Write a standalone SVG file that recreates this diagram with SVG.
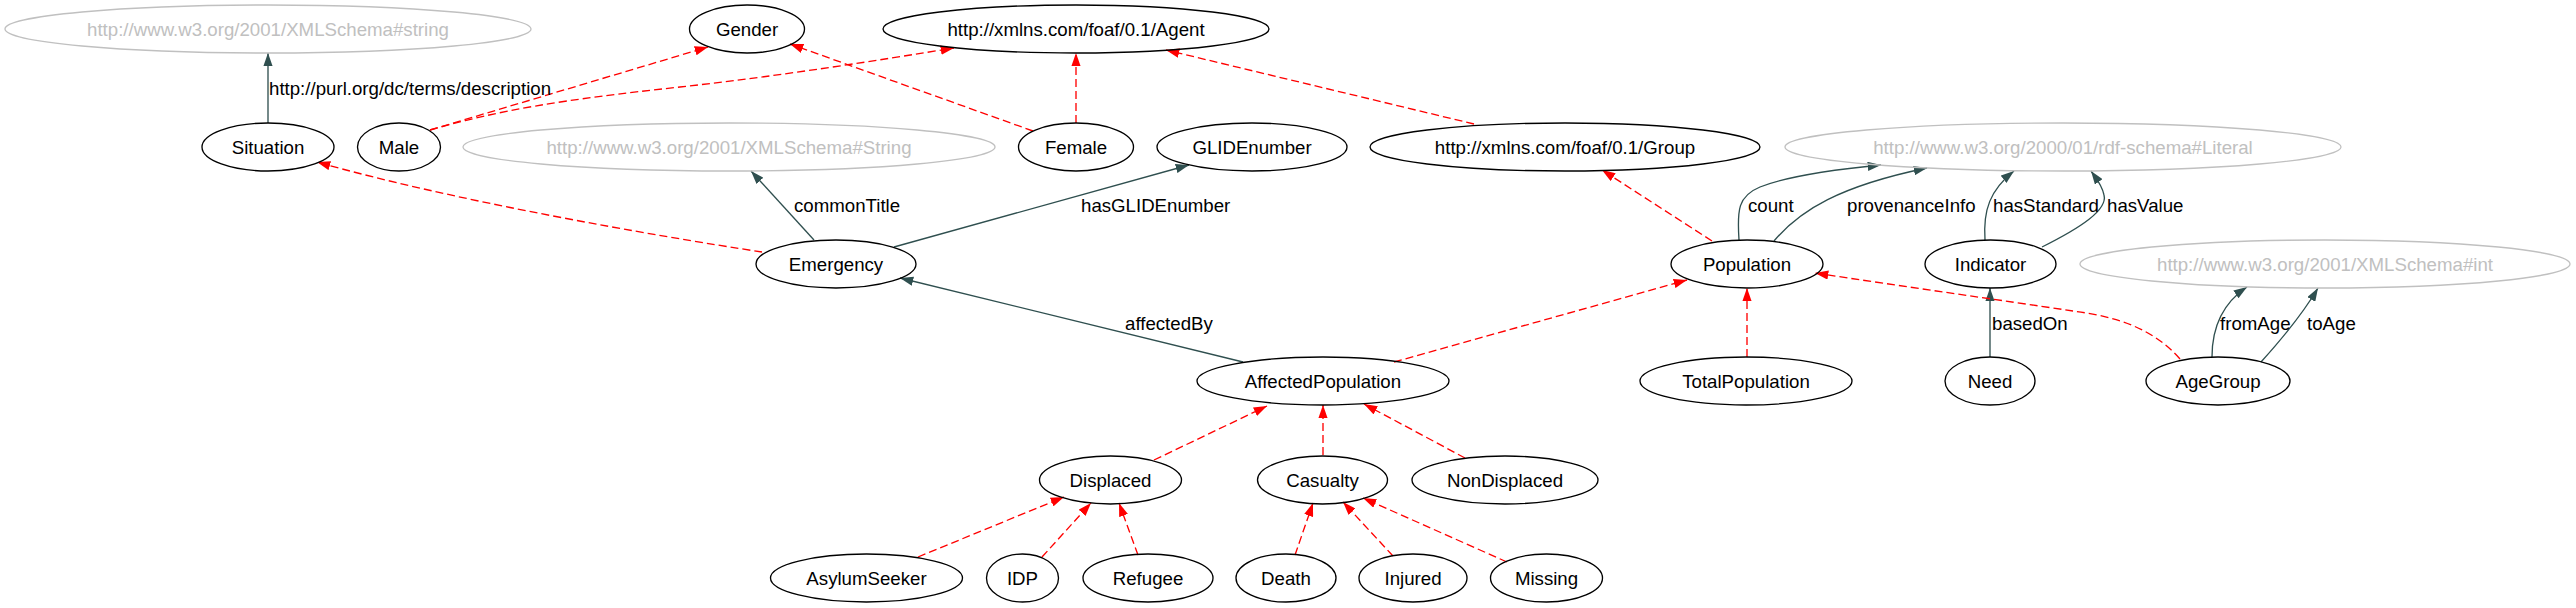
<svg xmlns="http://www.w3.org/2000/svg" width="2576" height="608" viewBox="0 0 2576 608">
<style>
.n ellipse{fill:none;stroke:#000;stroke-width:1.33}
.g ellipse{fill:none;stroke:#c0c0c0;stroke-width:1.33}
text{font-family:"Liberation Sans",Arial,Helvetica,sans-serif;font-size:18.67px}
.n text{fill:#000;text-anchor:middle}
.g text{fill:#c0c0c0;text-anchor:middle}
.p{fill:none;stroke:#2f4f4f;stroke-width:1.33;marker-end:url(#ad)}
.s{fill:none;stroke:#ff0000;stroke-width:1.33;stroke-dasharray:8,4;marker-end:url(#ar)}
.lbl{fill:#000}
</style>
<defs>
<marker id="ad" markerUnits="userSpaceOnUse" viewBox="0 0 13.3 9.33" refX="13.3" refY="4.67" markerWidth="13.3" markerHeight="9.33" orient="auto"><path d="M0,0 L13.3,4.67 L0,9.33 z" fill="#2f4f4f"/></marker>
<marker id="ar" markerUnits="userSpaceOnUse" viewBox="0 0 13.3 9.33" refX="13.3" refY="4.67" markerWidth="13.3" markerHeight="9.33" orient="auto"><path d="M0,0 L13.3,4.67 L0,9.33 z" fill="#ff0000"/></marker>
</defs>
<rect width="2576" height="608" fill="#fff"/>
<g id="connectors">
<path class="p" d="M268,123 L268,53"/>
<path class="p" d="M814,240 L751,171"/>
<path class="p" d="M894,247 L1189,165"/>
<path class="p" d="M1243,362 L900,278"/>
<path class="p" d="M1739,240 C1737,210 1738,196 1760,187 C1790,175 1840,169 1881,165"/>
<path class="p" d="M1774,241 C1800,210 1840,186 1927,168"/>
<path class="p" d="M1985,240 C1983,210 1990,190 2014,171"/>
<path class="p" d="M2042,247 C2080,228 2108,210 2104,195 C2102,185 2096,178 2091,171"/>
<path class="p" d="M1990,357 L1990,288"/>
<path class="p" d="M2212,357 C2212,330 2220,305 2247,287"/>
<path class="p" d="M2261,362 C2290,330 2305,310 2318,288"/>
<path class="s" d="M430,130 L708,47"/>
<path class="s" d="M430,130 C500,110 560,100 680,87 C780,76 880,60 954,48"/>
<path class="s" d="M1033,131 L790,44"/>
<path class="s" d="M1076,123 L1076,53"/>
<path class="s" d="M1474,124 L1166,50"/>
<path class="s" d="M762,252 C650,235 450,200 317,162"/>
<path class="s" d="M1712,241 L1602,170"/>
<path class="s" d="M1394,362 L1687,280"/>
<path class="s" d="M1747,357 L1747,288"/>
<path class="s" d="M2180,359 C2150,325 2110,316 2073,311 C2000,300 1900,286 1815,273"/>
<path class="s" d="M1154,460 L1267,406"/>
<path class="s" d="M1323,455 L1323,405"/>
<path class="s" d="M1465,458 L1364,404"/>
<path class="s" d="M918,557 L1064,497"/>
<path class="s" d="M1042,557 L1091,503"/>
<path class="s" d="M1138,555 L1119,503"/>
<path class="s" d="M1295,555 L1313,503"/>
<path class="s" d="M1393,556 L1343,502"/>
<path class="s" d="M1507,562 L1363,498"/>
<text class="lbl" x="269" y="94.5">http://purl.org/dc/terms/description</text>
<text class="lbl" x="794" y="211.5">commonTitle</text>
<text class="lbl" x="1081" y="211.5">hasGLIDEnumber</text>
<text class="lbl" x="1748" y="211.5">count</text>
<text class="lbl" x="1847" y="211.5">provenanceInfo</text>
<text class="lbl" x="1993" y="211.5">hasStandard</text>
<text class="lbl" x="2107" y="211.5">hasValue</text>
<text class="lbl" x="1125" y="329.5">affectedBy</text>
<text class="lbl" x="1992" y="329.5">basedOn</text>
<text class="lbl" x="2220" y="329.5">fromAge</text>
<text class="lbl" x="2307" y="329.5">toAge</text>
</g>
<g id="n_string" class="g"><ellipse cx="268" cy="29" rx="263" ry="24"/><text x="268" y="35.5">http://www.w3.org/2001/XMLSchema#string</text></g>
<g id="n_gender" class="n"><ellipse cx="747" cy="29" rx="57.5" ry="24"/><text x="747" y="35.5">Gender</text></g>
<g id="n_agent" class="n"><ellipse cx="1076" cy="29" rx="193" ry="24"/><text x="1076" y="35.5">http://xmlns.com/foaf/0.1/Agent</text></g>
<g id="n_situation" class="n"><ellipse cx="268" cy="147" rx="66" ry="24"/><text x="268" y="153.5">Situation</text></g>
<g id="n_male" class="n"><ellipse cx="399" cy="147" rx="41.5" ry="24"/><text x="399" y="153.5">Male</text></g>
<g id="n_String" class="g"><ellipse cx="729" cy="147" rx="266" ry="24"/><text x="729" y="153.5">http://www.w3.org/2001/XMLSchema#String</text></g>
<g id="n_female" class="n"><ellipse cx="1076" cy="147" rx="57.5" ry="24"/><text x="1076" y="153.5">Female</text></g>
<g id="n_glide" class="n"><ellipse cx="1252" cy="147" rx="95" ry="24"/><text x="1252" y="153.5">GLIDEnumber</text></g>
<g id="n_group" class="n"><ellipse cx="1565" cy="147" rx="195" ry="24"/><text x="1565" y="153.5">http://xmlns.com/foaf/0.1/Group</text></g>
<g id="n_literal" class="g"><ellipse cx="2063" cy="147" rx="278" ry="24"/><text x="2063" y="153.5">http://www.w3.org/2000/01/rdf-schema#Literal</text></g>
<g id="n_emergency" class="n"><ellipse cx="836" cy="264" rx="80" ry="24"/><text x="836" y="270.5">Emergency</text></g>
<g id="n_population" class="n"><ellipse cx="1747" cy="264" rx="76" ry="24"/><text x="1747" y="270.5">Population</text></g>
<g id="n_indicator" class="n"><ellipse cx="1990.5" cy="264" rx="65.5" ry="24"/><text x="1990.5" y="270.5">Indicator</text></g>
<g id="n_int" class="g"><ellipse cx="2325" cy="264" rx="245" ry="24"/><text x="2325" y="270.5">http://www.w3.org/2001/XMLSchema#int</text></g>
<g id="n_affected" class="n"><ellipse cx="1323" cy="381" rx="126" ry="24"/><text x="1323" y="387.5">AffectedPopulation</text></g>
<g id="n_total" class="n"><ellipse cx="1746" cy="381" rx="106" ry="24"/><text x="1746" y="387.5">TotalPopulation</text></g>
<g id="n_need" class="n"><ellipse cx="1990" cy="381" rx="45" ry="24"/><text x="1990" y="387.5">Need</text></g>
<g id="n_agegroup" class="n"><ellipse cx="2218" cy="381" rx="72" ry="24"/><text x="2218" y="387.5">AgeGroup</text></g>
<g id="n_displaced" class="n"><ellipse cx="1110.5" cy="480" rx="71" ry="24"/><text x="1110.5" y="486.5">Displaced</text></g>
<g id="n_casualty" class="n"><ellipse cx="1322.5" cy="480" rx="65" ry="24"/><text x="1322.5" y="486.5">Casualty</text></g>
<g id="n_nondisplaced" class="n"><ellipse cx="1505" cy="480" rx="93" ry="24"/><text x="1505" y="486.5">NonDisplaced</text></g>
<g id="n_asylum" class="n"><ellipse cx="866.5" cy="578" rx="96" ry="24"/><text x="866.5" y="584.5">AsylumSeeker</text></g>
<g id="n_idp" class="n"><ellipse cx="1022.5" cy="578" rx="36" ry="24"/><text x="1022.5" y="584.5">IDP</text></g>
<g id="n_refugee" class="n"><ellipse cx="1148" cy="578" rx="65" ry="24"/><text x="1148" y="584.5">Refugee</text></g>
<g id="n_death" class="n"><ellipse cx="1286" cy="578" rx="50" ry="24"/><text x="1286" y="584.5">Death</text></g>
<g id="n_injured" class="n"><ellipse cx="1413" cy="578" rx="54" ry="24"/><text x="1413" y="584.5">Injured</text></g>
<g id="n_missing" class="n"><ellipse cx="1546.5" cy="578" rx="56" ry="24"/><text x="1546.5" y="584.5">Missing</text></g>
</svg>
